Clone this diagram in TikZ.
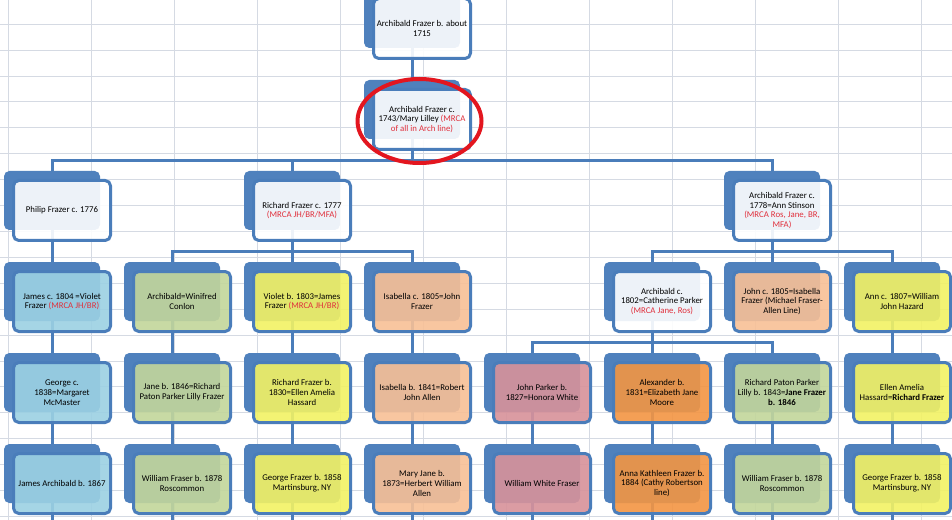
\documentclass[tikz,border=0pt]{standalone}
\usepackage{fontspec}
\setmainfont{Carlito}
\usepackage{tikz}
\pgfdeclarelayer{grid}
\pgfdeclarelayer{links}
\pgfsetlayers{grid,links,main}
\definecolor{boxblue}{HTML}{4F81BD}
\definecolor{lineblue}{HTML}{4A7DBA}
\definecolor{cellgrid}{HTML}{D5DAE3}
\definecolor{mrcared}{HTML}{E0303C}
\definecolor{ringred}{HTML}{E3161F}
\definecolor{sky}{HTML}{9CD1E3}
\definecolor{olive}{HTML}{C3D69B}
\definecolor{lemon}{HTML}{F2F264}
\definecolor{peach}{HTML}{F8C096}
\definecolor{rose}{HTML}{D8929A}
\definecolor{amber}{HTML}{F39543}
\newcommand{\mrcatext}[1]{\textcolor{mrcared}{#1}}

\begin{document}
\begin{tikzpicture}[x=0.75pt,y=-0.75pt,
    back/.style={fill=boxblue,rounded corners=4pt,minimum width=72pt,
      minimum height=44.25pt,inner sep=0pt},
    card/.style={draw=lineblue,line width=2.25pt,rounded corners=4pt,
      fill=white,fill opacity=0.9,text opacity=1,minimum width=72.75pt,
      minimum height=45pt,inner sep=1pt,align=center,
      font=\fontsize{6.6}{7.3}\selectfont},
    link/.style={draw=lineblue,line width=2.25pt},
    ring/.style={draw=ringred,line width=3pt},
    gridline/.style={draw=cellgrid,line width=0.75pt}]
       \useasboundingbox (0,0) rectangle (952,520);
       \clip (0,0) rectangle (952,520);
       \coordinate (foot) at (0,520);
       % spreadsheet cells
       \begin{pgfonlayer}{grid}
       \fill[white] (0,0) rectangle (952,520);
       \foreach \gx in {0,...,11}
        \draw[gridline] (8.3+83*\gx,0) -- (8.3+83*\gx,520);
       \foreach \gy in {0,...,19}
        \draw[gridline] (0,24.3+25.9*\gy) -- (952,24.3+25.9*\gy);
       \end{pgfonlayer}
       % generations 0 and 1
       \node[back] (arch15) at (412,18.5) {};
       \node[card] (arch15-t) at ([shift={(10,10)}]arch15) {Archibald Frazer b. about\\1715};
       \node[back] (arch43) at (412,109.5) {};
       \node[card] (arch43-t) at ([shift={(10,10)}]arch43) {Archibald Frazer c.\\1743/Mary Lilley \mrcatext{(MRCA}\\\mrcatext{of all in Arch line)}};
       % generation 2
       \node[back] (phil) at (52,200.5) {};
       \node[card] (phil-t) at ([shift={(10,10)}]phil) {Philip Frazer c. 1776};
       \node[back] (rich77) at (292,200.5) {};
       \node[card] (rich77-t) at ([shift={(10,10)}]rich77) {Richard Frazer c. 1777\\\mrcatext{(MRCA JH/BR/MFA)}};
       \node[back] (arch78) at (772,200.5) {};
       \node[card] (arch78-t) at ([shift={(10,10)}]arch78) {Archibald Frazer c.\\1778=Ann Stinson\\\mrcatext{(MRCA Ros, Jane, BR,}\\\mrcatext{MFA)}};
       % generation 3
       \node[back] (jam04) at (52,291.5) {};
       \node[card,fill=sky] (jam04-t) at ([shift={(10,10)}]jam04) {James c. 1804 =Violet\\Frazer \mrcatext{(MRCA JH/BR)}};
       \node[back] (win) at (172,291.5) {};
       \node[card,fill=olive] (win-t) at ([shift={(10,10)}]win) {Archibald=Winifred\\Conlon};
       \node[back] (vio03) at (292,291.5) {};
       \node[card,fill=lemon] (vio03-t) at ([shift={(10,10)}]vio03) {Violet b. 1803=James\\Frazer \mrcatext{(MRCA JH/BR)}};
       \node[back] (isa05) at (412,291.5) {};
       \node[card,fill=peach] (isa05-t) at ([shift={(10,10)}]isa05) {Isabella c. 1805=John\\Frazer};
       \node[back] (arch02) at (652,291.5) {};
       \node[card] (arch02-t) at ([shift={(10,10)}]arch02) {Archibald c.\\1802=Catherine Parker\\\mrcatext{(MRCA Jane, Ros)}};
       \node[back] (john05) at (772,291.5) {};
       \node[card,fill=peach] (john05-t) at ([shift={(10,10)}]john05) {John c. 1805=Isabella\\Frazer (Michael Fraser-\\Allen Line)};
       \node[back] (ann07) at (892,291.5) {};
       \node[card,fill=lemon] (ann07-t) at ([shift={(10,10)}]ann07) {Ann c. 1807=William\\John Hazard};
       % generation 4
       \node[back] (geo38) at (52,382.5) {};
       \node[card,fill=sky] (geo38-t) at ([shift={(10,10)}]geo38) {George c.\\1838=Margaret\\McMaster};
       \node[back] (jane46) at (172,382.5) {};
       \node[card,fill=olive] (jane46-t) at ([shift={(10,10)}]jane46) {Jane b. 1846=Richard\\Paton Parker Lilly Frazer};
       \node[back] (rich30) at (292,382.5) {};
       \node[card,fill=lemon] (rich30-t) at ([shift={(10,10)}]rich30) {Richard Frazer b.\\1830=Ellen Amelia\\Hassard};
       \node[back] (isa41) at (412,382.5) {};
       \node[card,fill=peach] (isa41-t) at ([shift={(10,10)}]isa41) {Isabella b. 1841=Robert\\John Allen};
       \node[back] (jpark27) at (532,382.5) {};
       \node[card,fill=rose] (jpark27-t) at ([shift={(10,10)}]jpark27) {John Parker b.\\1827=Honora White};
       \node[back] (alex31) at (652,382.5) {};
       \node[card,fill=amber] (alex31-t) at ([shift={(10,10)}]alex31) {Alexander b.\\1831=Elizabeth Jane\\Moore};
       \node[back] (rpp43) at (772,382.5) {};
       \node[card,fill=olive] (rpp43-t) at ([shift={(10,10)}]rpp43) {Richard Paton Parker\\Lilly b. 1843=\textbf{Jane Frazer}\\\textbf{b. 1846}};
       \node[back] (ellen) at (892,382.5) {};
       \node[card,fill=lemon] (ellen-t) at ([shift={(10,10)}]ellen) {Ellen Amelia\\Hassard=\textbf{Richard Frazer}};
       % generation 5
       \node[back] (jarch67) at (52,473.5) {};
       \node[card,fill=sky] (jarch67-t) at ([shift={(10,10)}]jarch67) {James Archibald b. 1867};
       \node[back] (wil78a) at (172,473.5) {};
       \node[card,fill=olive] (wil78a-t) at ([shift={(10,10)}]wil78a) {William Fraser b. 1878\\Roscommon};
       \node[back] (geo58a) at (292,473.5) {};
       \node[card,fill=lemon] (geo58a-t) at ([shift={(10,10)}]geo58a) {George Frazer b. 1858\\Martinsburg, NY};
       \node[back] (mjane73) at (412,473.5) {};
       \node[card,fill=peach] (mjane73-t) at ([shift={(10,10)}]mjane73) {Mary Jane b.\\1873=Herbert William\\Allen};
       \node[back] (wwf) at (532,473.5) {};
       \node[card,fill=rose] (wwf-t) at ([shift={(10,10)}]wwf) {William White Fraser};
       \node[back] (anna84) at (652,473.5) {};
       \node[card,fill=amber] (anna84-t) at ([shift={(10,10)}]anna84) {Anna Kathleen Frazer b.\\1884 (Cathy Robertson\\line)};
       \node[back] (wil78b) at (772,473.5) {};
       \node[card,fill=olive] (wil78b-t) at ([shift={(10,10)}]wil78b) {William Fraser b. 1878\\Roscommon};
       \node[back] (geo58b) at (892,473.5) {};
       \node[card,fill=lemon] (geo58b-t) at ([shift={(10,10)}]geo58b) {George Frazer b. 1858\\Martinsburg, NY};
       % connectors, behind the cards
       \begin{pgfonlayer}{links}
       \draw[link] (arch15) -- (arch43);
       \draw[link] (arch43.south) |- ([yshift=7.5pt]phil.north) -- (phil.north);
       \draw[link] (arch43.south) |- ([yshift=7.5pt]rich77.north) -- (rich77.north);
       \draw[link] (arch43.south) |- ([yshift=7.5pt]arch78.north) -- (arch78.north);
       \draw[link] (phil) -- (jam04);
       \draw[link] (rich77.south) |- ([yshift=7.5pt]win.north) -- (win.north);
       \draw[link] (rich77.south) |- ([yshift=7.5pt]vio03.north) -- (vio03.north);
       \draw[link] (rich77.south) |- ([yshift=7.5pt]isa05.north) -- (isa05.north);
       \draw[link] (arch78.south) |- ([yshift=7.5pt]arch02.north) -- (arch02.north);
       \draw[link] (arch78.south) |- ([yshift=7.5pt]john05.north) -- (john05.north);
       \draw[link] (arch78.south) |- ([yshift=7.5pt]ann07.north) -- (ann07.north);
       \draw[link] (jam04) -- (geo38);
       \draw[link] (win) -- (jane46);
       \draw[link] (vio03) -- (rich30);
       \draw[link] (isa05) -- (isa41);
       \draw[link] (arch02.south) |- ([yshift=7.5pt]jpark27.north) -- (jpark27.north);
       \draw[link] (arch02.south) |- ([yshift=7.5pt]alex31.north) -- (alex31.north);
       \draw[link] (arch02.south) |- ([yshift=7.5pt]rpp43.north) -- (rpp43.north);
       \draw[link] (ann07) -- (ellen);
       \draw[link] (geo38) -- (jarch67);
       \draw[link] (jane46) -- (wil78a);
       \draw[link] (rich30) -- (geo58a);
       \draw[link] (isa41) -- (mjane73);
       \draw[link] (jpark27) -- (wwf);
       \draw[link] (alex31) -- (anna84);
       \draw[link] (rpp43) -- (wil78b);
       \draw[link] (ellen) -- (geo58b);
       \foreach \n in {jarch67,wil78a,geo58a,mjane73,wwf,anna84,wil78b,geo58b}
        \draw[link] (\n) -- (\n |- foot);
       \end{pgfonlayer}
       % the circled couple
       \draw[ring] (419.5,121) ellipse [x radius=62, y radius=42];
      \end{tikzpicture}
\end{document}
